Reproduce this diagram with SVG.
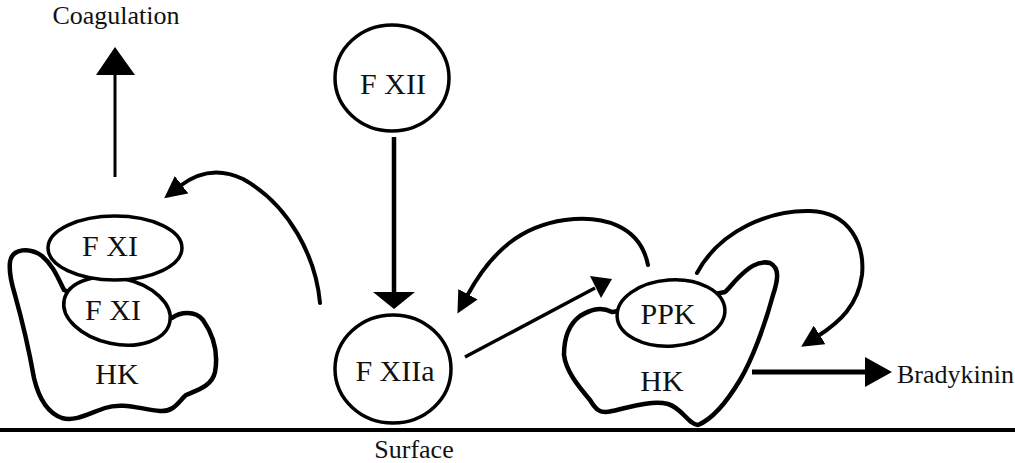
<svg xmlns="http://www.w3.org/2000/svg" width="1015" height="463" viewBox="0 0 1015 463">
<style>
  text { font-family: 'Liberation Serif', 'DejaVu Serif', 'Noto Serif', serif; fill: #111; text-anchor: middle; }
  .lbl { font-size: 30px; }
  .sm { font-size: 26px; }
  .blob { fill: #fff; stroke: #000; stroke-width: 4.5; stroke-linejoin: round; }
  .node { fill: #fff; stroke: #000; stroke-width: 3.5; }
  .curve { fill: none; stroke: #000; stroke-width: 4; stroke-linecap: round; }
  .line { fill: none; stroke: #000; }
  .head { fill: #000; }
</style>
<defs>
  <marker id="ah" viewBox="0 -11 22 22" refX="2" refY="0" markerWidth="22" markerHeight="22" markerUnits="userSpaceOnUse" orient="auto">
    <path d="M0,-11 L22,0 L0,11 z" fill="#000"/>
  </marker>
</defs>
<rect width="1015" height="463" fill="#fff"/>

<line x1="0" y1="430" x2="1015" y2="430" stroke="#000" stroke-width="4"/>
<text class="sm" x="414" y="458" font-family="Liberation Serif, serif">Surface</text>

<g id="left-complex">
  <path class="blob" d="M10,262 C12,248 30,247 42,256 C53,265 58,278 64,290 C100,305 140,312 172,318 C180,312 195,310 203,320 C212,333 219,350 215,372 C212,386 198,390 186,395 C178,402 174,412 160,411 C140,409 122,402 105,408 C90,413 75,422 62,418 C45,412 38,395 34,378 C29,350 22,320 15,295 C11,282 9,270 10,262 z"/>
  <g id="fxi-lower">
    <ellipse class="node" cx="117" cy="311" rx="54" ry="33" transform="rotate(12 117 311)"/>
    <text class="lbl" x="113" y="320" font-family="Liberation Serif, serif">F XI</text>
  </g>
  <g id="fxi-upper">
    <ellipse class="node" cx="115" cy="248" rx="67" ry="32"/>
    <text class="lbl" x="110" y="256" font-family="Liberation Serif, serif">F XI</text>
  </g>
  <text class="lbl" x="117" y="384" font-family="Liberation Serif, serif">HK</text>
</g>

<g id="fxii">
  <ellipse class="node" cx="392" cy="78" rx="57" ry="53"/>
  <text class="lbl" x="393" y="94" font-family="Liberation Serif, serif">F XII</text>
</g>

<g id="fxiia">
  <ellipse class="node" cx="393" cy="369" rx="58" ry="54"/>
  <text class="lbl" x="395" y="381" font-family="Liberation Serif, serif">F XIIa</text>
</g>

<g id="right-complex">
  <path class="blob" d="M612,312 C600,306 590,310 580,316 C568,325 564,340 564,355 C566,372 580,388 590,400 C596,410 600,414 612,411 C630,407 652,400 668,404 C682,408 688,424 698,425 C710,420 725,405 740,380 C752,360 765,325 773,295 C778,280 780,268 770,263 C758,260 748,268 738,278 C732,284 728,290 725,292 C690,300 650,306 612,312 z"/>
  <g id="ppk">
    <ellipse class="node" cx="671" cy="313" rx="54" ry="33" transform="rotate(-4 671 313)"/>
    <text class="lbl" x="668" y="324" font-family="Liberation Serif, serif">PPK</text>
  </g>
  <text class="lbl" x="662" y="391" font-family="Liberation Serif, serif">HK</text>
</g>

<text class="sm" x="116" y="24" font-family="Liberation Serif, serif">Coagulation</text>
<text class="sm" x="897" y="383" font-family="Liberation Serif, serif" style="text-anchor:start">Bradykinin</text>

<g id="connectors">
  <line class="line" x1="115" y1="177" x2="115" y2="72" stroke-width="3"/>
  <polygon class="head" points="115,47 135,75 96,75"/>
  <line class="line" x1="394" y1="137" x2="394" y2="294" stroke-width="4.5"/>
  <polygon class="head" points="373,292 415,292 394,309"/>
  <line class="line" x1="465" y1="357" x2="595" y2="288" stroke-width="3.5"/>
  <polygon class="head" points="612,279 590,276 601,298"/>
  <line class="line" x1="752" y1="372" x2="868" y2="372" stroke-width="5"/>
  <polygon class="head" points="865,357 892,372 865,387"/>
  <path class="curve" d="M320,303 C316,258 290,205 243,179 C218,167 198,172 180,186" marker-end="url(#ah)"/>
  <path class="curve" d="M648,265 C640,225 602,215 565,220 C522,226 492,250 467,296" marker-end="url(#ah)"/>
  <path class="curve" d="M697,273 C720,230 770,210 810,211 C850,212 865,245 862,275 C858,305 840,322 818,336" marker-end="url(#ah)"/>
</g>
</svg>
